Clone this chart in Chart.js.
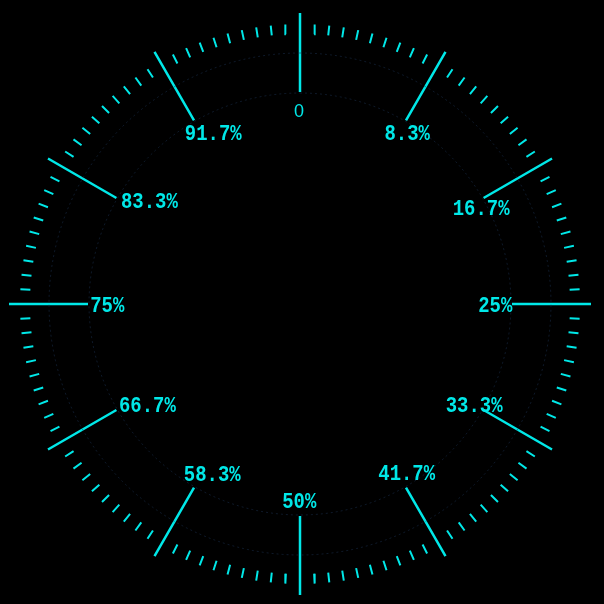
<!DOCTYPE html>
<html><head><meta charset="utf-8">
<script src="https://cdn.jsdelivr.net/npm/chart.js@4.4.1/dist/chart.umd.min.js"></script>
<style>html,body{margin:0;padding:0;background:#000;overflow:hidden}#wrap{width:604px;height:604px;position:relative}</style>
</head><body><div id="wrap"><canvas id="c" width="604" height="604"></canvas></div>
<script>
// ---- data ----
const tickLabels = ['0','8.3%','16.7%','25%','33.3%','41.7%','50%','58.3%','66.7%','75%','83.3%','91.7%'];
const majorCount = 12;      // split lines around the full dial
const minorPerMajor = 10;   // sub-divisions between split lines

// ---- style ----
const CYAN = 'rgb(0,232,232)';
const R_MAJOR_IN = 212, R_MAJOR_OUT = 291;
const R_MINOR_IN = 270, R_MINOR_OUT = 280;
const R_LABEL = 195;
const R_RINGS = [211, 251];
// small per-label text nudges in pixels [dx, dy] (screen space)
const LABEL_NUDGE = [[-1,1],[10.5,-3],[13,0.5],[1,0],[6,2.5],[9.5,0],[0,1],[10.5,1],[17,2.5],[3,0],[19,-6.5],[11.5,-3]];

function polar(frac, r){
  const a = frac * 2 * Math.PI;
  return {x: r * Math.sin(a), y: r * Math.cos(a)};
}
function segments(fracs, r0, r1){
  const pts = [];
  fracs.forEach(f => { pts.push(polar(f, r0), polar(f, r1), {x:null, y:null}); });
  return pts;
}
const majorFracs = tickLabels.map((_, i) => i / majorCount);
const minorFracs = [];
for (let i = 0; i < majorCount; i++)
  for (let j = 1; j < minorPerMajor; j++)
    minorFracs.push((i + j / minorPerMajor) / majorCount);

const ringSets = R_RINGS.map(r => {
  const pts = [];
  for (let k = 0; k <= 360; k++) pts.push(polar(k / 360, r));
  return {data: pts, showLine: true, borderColor: 'rgba(25,45,75,0.55)', borderWidth: 1,
          borderDash: [2, 3], pointRadius: 0, fill: false};
});

const labelPlugin = {
  id: 'dialLabels',
  afterDatasetsDraw(chart){
    const {ctx, scales:{x, y}} = chart;
    ctx.save();
    ctx.fillStyle = CYAN;
    ctx.textBaseline = 'alphabetic';
    ctx.textAlign = 'left';
    tickLabels.forEach((t, i) => {
      const p = polar(majorFracs[i], R_LABEL);
      const [dx, dy] = LABEL_NUDGE[i];
      const sx = i === 0 ? 1 : 0.86;
      ctx.font = i === 0 ? '18px "Liberation Sans", Arial, sans-serif'
                         : 'bold 22px "Liberation Mono", "DejaVu Sans Mono", monospace';
      const m = ctx.measureText(t);
      const inkW = (m.actualBoundingBoxRight + m.actualBoundingBoxLeft) * sx;
      const inkH = m.actualBoundingBoxAscent + m.actualBoundingBoxDescent;
      const cx = x.getPixelForValue(p.x) + dx, cy = y.getPixelForValue(p.y) + dy;
      const left = cx - inkW / 2;
      const base = cy + inkH / 2 - m.actualBoundingBoxDescent;
      ctx.save();
      ctx.translate(left, base);
      ctx.scale(sx, 1);
      ctx.fillText(t, m.actualBoundingBoxLeft, 0);
      ctx.restore();
    });
    ctx.restore();
  }
};

new Chart(document.getElementById('c'), {
  type: 'scatter',
  data: {datasets: [
    ...ringSets,
    {data: segments(minorFracs, R_MINOR_IN, R_MINOR_OUT), showLine: true, spanGaps: false,
     borderColor: CYAN, borderWidth: 2, pointRadius: 0, borderCapStyle: 'butt'},
    {data: segments(majorFracs, R_MAJOR_IN, R_MAJOR_OUT), showLine: true, spanGaps: false,
     borderColor: CYAN, borderWidth: 2.5, pointRadius: 0, borderCapStyle: 'butt'}
  ]},
  options: {
    responsive: false, animation: false, maintainAspectRatio: false,
    layout: {padding: 0},
    plugins: {legend: {display: false}, tooltip: {enabled: false}},
    scales: {
      x: {type: 'linear', min: -300, max: 304, display: false},
      y: {type: 'linear', min: -300, max: 304, display: false}
    },
    events: []
  },
  plugins: [{id: 'bg', beforeDraw(c){ c.ctx.save(); c.ctx.fillStyle = '#000'; c.ctx.fillRect(0,0,c.width,c.height); c.ctx.restore(); }}, labelPlugin]
});
</script>
</body></html>
